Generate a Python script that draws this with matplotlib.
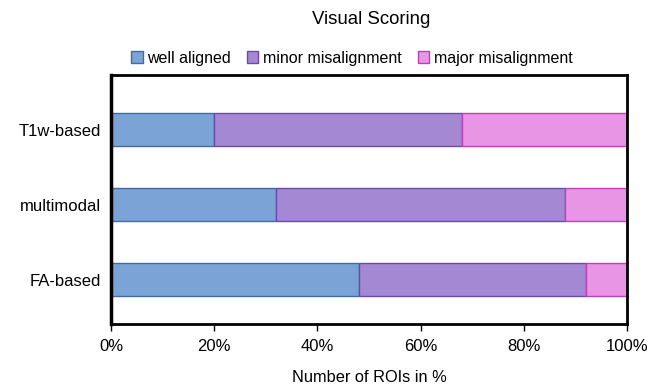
import numpy as np
import matplotlib
matplotlib.use("Agg")
import matplotlib.pyplot as plt

# Visual scoring results per registration method (percent of ROIs)
methods = ["FA-based", "multimodal", "T1w-based"]
well_aligned = [48, 32, 20]
minor_misalignment = [44, 56, 48]
major_misalignment = [8, 12, 32]

series = [
    ("well aligned", well_aligned, "#7BA3D6", "#3F6CA8"),
    ("minor misalignment", minor_misalignment, "#A488D4", "#6A4BA8"),
    ("major misalignment", major_misalignment, "#E895E6", "#C040B8"),
]

plt.rcParams["font.family"] = ["Liberation Sans", "DejaVu Sans"]

fig = plt.figure(figsize=(6.56, 3.85), dpi=100)
ax = fig.add_axes([111 / 656, 1 - 324 / 385, 516 / 656, 249 / 385])

y = np.arange(len(methods))
left = np.zeros(len(methods))
for label, vals, face, edge in series:
    ax.barh(y, vals, left=left, height=0.44, color=face, edgecolor=edge,
            linewidth=1.0, label=label)
    left += np.array(vals)

ax.set_xlim(0, 100)
ax.set_ylim(-0.587, 2.733)
ax.set_yticks(y)
ax.set_yticklabels(methods, fontsize=12)
ax.tick_params(axis="y", length=0, pad=7)
ax.set_xticks(np.arange(0, 101, 20))
ax.set_xticklabels([f"{v}%" for v in range(0, 101, 20)], fontsize=12)
ax.tick_params(axis="x", direction="out", length=5, width=1, pad=6)
ax.set_xlabel("Number of ROIs in %", fontsize=11.8, labelpad=11)

for s in ax.spines.values():
    s.set_linewidth(2)
ax.spines["left"].set_linewidth(2.5)

fig.text(371 / 656, 1 - 19 / 385, "Visual Scoring", ha="center", va="center",
         fontsize=13.4)
fig.legend(loc="center", bbox_to_anchor=(352 / 656, 1 - 58 / 385), ncol=3,
           frameon=False, fontsize=11.5, handlelength=0.7, handleheight=0.7,
           handletextpad=0.3, columnspacing=1.0)

fig.savefig("out.png", dpi=100)
